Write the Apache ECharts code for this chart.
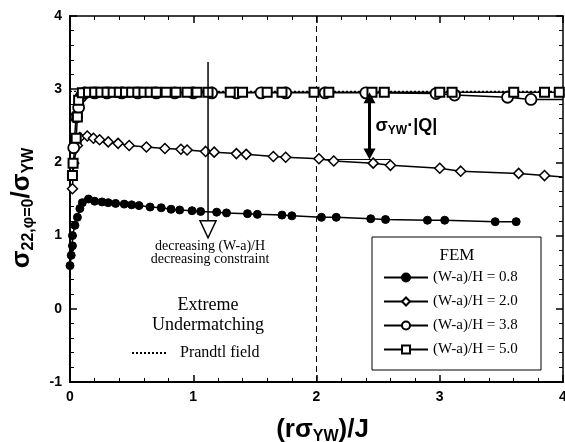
<!DOCTYPE html>
<html>
<head>
<meta charset="utf-8">
<script src="https://cdn.jsdelivr.net/npm/echarts@6/dist/echarts.min.js"></script>
<style>
  html, body { margin: 0; padding: 0; background: #fff; }
  #chart { width: 565px; height: 442px; }
</style>
</head>
<body>
<div id="chart"></div>
<script>
// ---- data ----
const xTicks = [0, 1, 2, 3, 4];
const yTicks = [-1, 0, 1, 2, 3, 4];

const names = ['(W-a)/H = 0.8', '(W-a)/H = 2.0', '(W-a)/H = 3.8', '(W-a)/H = 5.0'];

const xs08 = [0.0, 0.01, 0.02, 0.02, 0.04, 0.06, 0.08, 0.1, 0.15, 0.2, 0.26, 0.31, 0.37, 0.44, 0.5, 0.56, 0.65, 0.74, 0.82,
  0.89, 0.99, 1.06, 1.19, 1.27, 1.44, 1.52, 1.72, 1.8, 2.04, 2.16, 2.44, 2.56, 2.9, 3.04, 3.45, 3.62];
const ys08 = [0.59, 0.73, 0.86, 1.0, 1.14, 1.25, 1.37, 1.45, 1.5, 1.47, 1.46, 1.45, 1.44, 1.43, 1.42, 1.41, 1.39, 1.38, 1.36,
  1.35, 1.34, 1.33, 1.32, 1.31, 1.3, 1.29, 1.28, 1.27, 1.25, 1.25, 1.23, 1.22, 1.21, 1.21, 1.19, 1.19];

const xs20 = [0.02, 0.03, 0.06, 0.08, 0.14, 0.19, 0.24, 0.31, 0.39, 0.48, 0.62, 0.77, 0.9, 0.95, 1.1,
  1.17, 1.35, 1.43, 1.65, 1.75, 2.02, 2.14, 2.46, 2.6, 3.0, 3.17, 3.64, 3.85, 4.0];
const ys20 = [1.64, 1.99, 2.23, 2.34, 2.36, 2.33, 2.31, 2.28, 2.26, 2.23, 2.21, 2.19, 2.18, 2.17, 2.15,
  2.14, 2.12, 2.11, 2.08, 2.07, 2.05, 2.02, 1.99, 1.96, 1.92, 1.88, 1.85, 1.82, 1.8];

const xs38 = [0.03, 0.05, 0.07, 0.09, 0.12, 0.2, 0.3, 0.42, 0.55, 0.7, 0.85, 1.0, 1.15, 1.35, 1.55,
  1.75, 2.07, 2.4, 2.97, 3.12, 3.55, 3.74, 4.0];
const ys38 = [2.2, 2.62, 2.75, 2.9, 2.95, 2.95, 2.95, 2.95, 2.95, 2.95, 2.95, 2.95, 2.95, 2.95, 2.95,
  2.95, 2.95, 2.95, 2.94, 2.92, 2.89, 2.86, 2.86];

const xs50 = [0.02, 0.025, 0.05, 0.06, 0.07, 0.1, 0.15, 0.2, 0.25, 0.3, 0.35, 0.4, 0.45, 0.5, 0.55, 0.6, 0.65, 0.7,
  0.78, 0.86, 0.95, 1.03, 1.12, 1.3, 1.4, 1.6, 1.72, 1.98, 2.1, 2.45, 2.55, 3.0, 3.1, 3.6, 3.85, 3.97];
const ys50 = [1.82, 1.99, 2.33, 2.62, 2.85, 2.95, 2.96, 2.96, 2.96, 2.96, 2.96, 2.96, 2.96, 2.96, 2.96, 2.96, 2.96, 2.96,
  2.96, 2.96, 2.96, 2.96, 2.96, 2.96, 2.96, 2.96, 2.96, 2.96, 2.96, 2.96, 2.96, 2.96, 2.96, 2.96, 2.96, 2.96];

const refX = 2;          // vertical dashed line
const prandtlY = 2.97;   // Prandtl field level
const qLevelY = 2.04;    // bottom of the |Q| arrow
const qRange = [2.0, 2.6];
const qArrowX = 2.43;
const decArrowX = 1.12;
const decArrowY = [3.37, 0.97];

// ---- chart ----
const SANS = '"Liberation Sans", Arial, sans-serif';
const SERIF = '"Liberation Serif", "Times New Roman", serif';

const zip = (xs, ys) => xs.map((x, i) => [x, ys[i]]);
// last point of a curve that runs to the frame: no marker
const toFrame = (pts) => pts.map((p) => (p[0] >= 4 ? { value: p, symbol: 'none' } : p));

const chart = echarts.init(document.getElementById('chart'));

const axisBase = (min, max) => ({
  type: 'value',
  min: min,
  max: max,
  interval: 1,
  axisLine: { onZero: false, lineStyle: { color: '#000', width: 2 } },
  axisTick: { inside: true, length: 7, lineStyle: { color: '#000', width: 1.5 } },
  minorTick: { show: true, splitNumber: 5, length: 4, lineStyle: { color: '#000', width: 1 } },
  splitLine: { show: false }
});

const tickLabel = {
  color: '#000',
  fontFamily: SANS,
  fontSize: 14,
  fontWeight: 'bold',
  margin: 8
};

const nameRich = {
  b: { fontFamily: SANS, fontSize: 26, fontWeight: 'bold', color: '#000' },
  s: { fontFamily: SANS, fontSize: 16, fontWeight: 'bold', color: '#000', padding: [14, 0, 0, 0] }
};

const lineSeries = (name, data, symbol, size, filled, bw) => ({
  name: name,
  type: 'line',
  data: toFrame(data),
  symbol: symbol,
  symbolSize: size,
  showSymbol: true,
  lineStyle: { color: '#000', width: 1.5 },
  itemStyle: {
    color: filled ? '#000' : '#fff',
    borderColor: '#000',
    borderWidth: bw
  },
  z: 3
});

const refLine = (data, type, width) => ({
  type: 'line',
  data: data,
  symbol: 'none',
  silent: true,
  lineStyle: { color: '#000', width: width, type: type },
  z: 2
});

chart.setOption({
  animation: false,
  backgroundColor: '#fff',
  grid: { left: 70, right: 2, top: 16, bottom: 60, outerBoundsMode: 'none' },
  xAxis: [
    Object.assign(axisBase(xTicks[0], xTicks[xTicks.length - 1]), {
      position: 'bottom',
      axisLabel: tickLabel,
      name: '{b|(rσ}{s|YW}{b|)/J}',
      nameLocation: 'middle',
      nameGap: 33,
      nameTextStyle: { rich: nameRich, padding: [0, 0, 0, 12] }
    }),
    Object.assign(axisBase(xTicks[0], xTicks[xTicks.length - 1]), {
      position: 'top',
      axisLine: { onZero: false, lineStyle: { color: '#000', width: 1.5 } },
      axisLabel: { show: false }
    })
  ],
  yAxis: [
    Object.assign(axisBase(yTicks[0], yTicks[yTicks.length - 1]), {
      position: 'left',
      axisLabel: tickLabel,
      name: '{b|σ}{s|22,φ=0}{b|/σ}{s|YW}',
      nameLocation: 'middle',
      nameGap: 33,
      nameTextStyle: { rich: nameRich, padding: [0, 18, 0, 0] }
    }),
    Object.assign(axisBase(yTicks[0], yTicks[yTicks.length - 1]), {
      position: 'right',
      axisLine: { onZero: false, lineStyle: { color: '#000', width: 1.5 } },
      axisLabel: { show: false }
    })
  ],
  legend: {
    data: names,
    orient: 'vertical',
    left: 378,
    top: 265,
    itemWidth: 44,
    itemHeight: 10,
    itemGap: 9,
    selectedMode: false,
    textStyle: { fontFamily: SERIF, fontSize: 15, color: '#000', lineHeight: 15 }
  },
  series: [
    refLine([[refX, yTicks[0]], [refX, yTicks[yTicks.length - 1]]], [6, 4], 1),
    refLine([[xTicks[0], prandtlY], [xTicks[xTicks.length - 1], prandtlY]], [2, 2], 1.2),
    refLine([[qRange[0], qLevelY], [qRange[1], qLevelY]], 'solid', 1),
    lineSeries(names[0], zip(xs08, ys08), 'circle', 8, true, 1),
    lineSeries(names[1], zip(xs20, ys20), 'diamond', 10, false, 1.5),
    lineSeries(names[2], zip(xs38, ys38), 'circle', 11, false, 1.8),
    lineSeries(names[3], zip(xs50, ys50), 'rect', 9, false, 2)
  ]
});

// ---- annotations placed through the axes ----
const px = (x, y) => chart.convertToPixel({ xAxisIndex: 0, yAxisIndex: 0 }, [x, y]);
const [ax, ay0] = px(decArrowX, decArrowY[0]);
const [, ay1] = px(decArrowX, decArrowY[1]);
const [bx, by0] = px(qArrowX, prandtlY - 0.01);
const [, by1] = px(qArrowX, qLevelY);

chart.setOption({
  graphic: [
    // decreasing-constraint arrow
    { type: 'line', shape: { x1: ax, y1: ay0, x2: ax, y2: ay1 - 16 }, style: { stroke: '#000', lineWidth: 1.5 }, z: 10 },
    { type: 'polygon', shape: { points: [[ax - 8, ay1 - 17], [ax + 8, ay1 - 17], [ax, ay1]] },
      style: { stroke: '#000', fill: '#fff', lineWidth: 1.5 }, z: 10 },
    { type: 'text', x: ax + 2, y: ay1 + 2, z: 10,
      style: { text: 'decreasing (W-a)/H\ndecreasing constraint', align: 'center', verticalAlign: 'top',
        font: '14px ' + SERIF, lineHeight: 13, fill: '#000' } },
    // |Q| double arrow
    { type: 'line', shape: { x1: bx, y1: by0 + 9, x2: bx, y2: by1 - 9 }, style: { stroke: '#000', lineWidth: 3 }, z: 10 },
    { type: 'polygon', shape: { points: [[bx - 6, by0 + 11], [bx + 6, by0 + 11], [bx, by0]] }, style: { fill: '#000' }, z: 10 },
    { type: 'polygon', shape: { points: [[bx - 6, by1 - 11], [bx + 6, by1 - 11], [bx, by1]] }, style: { fill: '#000' }, z: 10 },
    { type: 'text', x: bx + 6, y: (by0 + by1) / 2, z: 10,
      style: { text: '{b|σ}{s|YW}{b|·|Q|}', verticalAlign: 'middle',
        rich: {
          b: { fontFamily: SANS, fontSize: 18, fontWeight: 'bold', fill: '#000' },
          s: { fontFamily: SANS, fontSize: 12, fontWeight: 'bold', fill: '#000', padding: [9, 0, 0, 0] }
        } } },
    // texts in the lower left
    { type: 'text', x: 208, y: 315, z: 10,
      style: { text: 'Extreme\nUndermatching', align: 'center', verticalAlign: 'middle',
        font: '18px ' + SERIF, lineHeight: 20, fill: '#000' } },
    { type: 'line', shape: { x1: 132, y1: 353, x2: 167, y2: 353 }, style: { stroke: '#000', lineWidth: 2, lineDash: [2, 2] }, z: 10 },
    { type: 'text', x: 180, y: 353, z: 10,
      style: { text: 'Prandtl field', verticalAlign: 'middle', font: '16px ' + SERIF, fill: '#000' } },
    // legend box
    { type: 'rect', shape: { x: 372, y: 237, width: 169, height: 133 }, style: { stroke: '#000', fill: '#fff', lineWidth: 1 }, z: 0, silent: true },
    { type: 'text', x: 457, y: 256, z: 10,
      style: { text: 'FEM', align: 'center', verticalAlign: 'middle', font: '17px ' + SERIF, fill: '#000' } }
  ]
});
</script>
</body>
</html>
